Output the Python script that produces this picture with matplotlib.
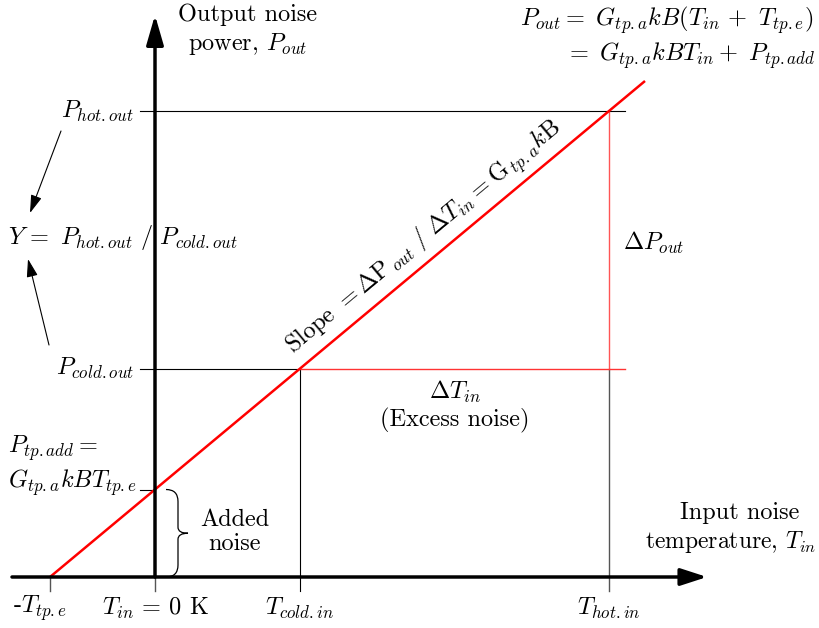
import matplotlib
matplotlib.use("Agg")
import matplotlib.pyplot as plt
from matplotlib.path import Path
from matplotlib.patches import PathPatch
import numpy as np

plt.rcParams['mathtext.fontset'] = 'cm'
plt.rcParams['font.family'] = ['cmr10', 'DejaVu Serif']
plt.rcParams['axes.formatter.use_mathtext'] = True

# ---- data (arbitrary units) ----
temp_names = ["-$T_{tp.e}$", "$T_{in}$ = 0 K", "$T_{cold.in}$", "$T_{hot.in}$"]
temps = [-105, 0, 145, 454]          # -T_tp.e, 0 K, T_cold.in, T_hot.in
p_add = 87.5                          # P_tp.add
p_cold = 208.4                        # P_cold.out
p_hot = 466.0                         # P_hot.out
line_x = [-105, 490]                  # red characteristic line
line_y = [0.0, 496.0]

FS = 17.5
fig = plt.figure(figsize=(8.2, 6.28), dpi=100)
ax = fig.add_axes([0, 0, 1, 1])
ax.set_xlim(-155, 665)
ax.set_ylim(-51, 577)
ax.axis('off')

def P(px, py):
    return px - 155, 577 - py

t_e, t0, t_cold, t_hot = temps
tick_lo = -14

# axes arrows
ax.annotate('', xy=(552, 0), xytext=(-143, 0),
            arrowprops=dict(arrowstyle='-|>,head_length=0.8,head_width=0.26',
                            mutation_scale=20, lw=2.5, color='black',
                            shrinkA=0, shrinkB=0))
ax.annotate('', xy=(0, 562), xytext=(0, 0),
            arrowprops=dict(arrowstyle='-|>,head_length=0.9,head_width=0.26',
                            mutation_scale=20, lw=2.5, color='black',
                            shrinkA=0, shrinkB=0))

# ticks below x-axis
for t in [t_e, t0]:
    ax.plot([t, t], [tick_lo, 0], color='#555555', lw=1.0)
ax.plot([t_cold, t_cold], [tick_lo, p_cold], color='black', lw=0.8)
ax.plot([t_hot, t_hot], [tick_lo, p_cold], color='#555555', lw=1.0)
ax.plot([t_hot, t_hot], [p_cold, p_hot], color='#ff5555', lw=1.0)

# horizontal guides
ax.plot([-15, 470], [p_hot, p_hot], color='black', lw=0.8)
ax.plot([-15, t_cold], [p_cold, p_cold], color='black', lw=0.8)
ax.plot([t_cold, 470], [p_cold, p_cold], color='#ff3333', lw=1.0)
ax.plot([-15, 0], [p_add, p_add], color='black', lw=0.8)

# red characteristic
ax.plot(line_x, line_y, color='#ff0000', lw=1.8, solid_capstyle='butt')

# brace for added noise
bx = 23
verts = [(11, p_add), (bx, p_add), (bx, p_add - 12),
         (bx, p_add / 2 + 6), (bx, p_add / 2), (bx + 10, p_add / 2),
         (bx, p_add / 2), (bx, p_add / 2 - 6),
         (bx, 12), (bx, 0), (11, 0)]
codes = [Path.MOVETO, Path.CURVE3, Path.CURVE3,
         Path.LINETO, Path.CURVE3, Path.CURVE3,
         Path.CURVE3, Path.CURVE3,
         Path.LINETO, Path.CURVE3, Path.CURVE3]
ax.add_patch(PathPatch(Path(verts, codes), fill=False, lw=0.9, color='black'))

# texts
ax.text(*P(248, 30), "Output noise\npower, $P_{out}$", fontsize=FS, ha='center', va='center',
        linespacing=1.25)
ax.text(*P(813, 20), r"$P_{out} =\ G_{tp.a}kB(T_{in}\, +\ T_{tp.e})$", fontsize=FS,
        ha='right', va='center')
ax.text(*P(816, 56), r"$=\ G_{tp.a}kBT_{in} +\ P_{tp.add}$", fontsize=FS,
        ha='right', va='center')
ax.text(*P(134, 111), r"$P_{hot.out}$", fontsize=FS, ha='right', va='center')
ax.text(*P(8, 237), r"$Y\, =\ P_{hot.out}\ /\ P_{cold.out}$", fontsize=FS, ha='left', va='center')
ax.text(*P(134, 368), r"$P_{cold.out}$", fontsize=FS, ha='right', va='center')
ax.text(*P(8, 448), r"$P_{tp.add} =$", fontsize=FS, ha='left', va='center')
ax.text(*P(8, 483), r"$G_{tp.a}kBT_{tp.e}$", fontsize=FS, ha='left', va='center')
ax.text(*P(235, 532), "Added\nnoise", fontsize=FS, ha='center', va='center', linespacing=1.1)
ax.text(*P(455, 392), r"$\Delta T_{in}$", fontsize=FS, ha='center', va='center')
ax.text(*P(455, 420), "(Excess noise)", fontsize=FS, ha='center', va='center')
ax.text(*P(623, 243), r"$\Delta P_{out}$", fontsize=FS, ha='left', va='center')
ax.text(*P(740, 513), "Input noise", fontsize=FS, ha='center', va='center')
ax.text(*P(816, 542), "temperature, $T_{in}$", fontsize=FS - 0.5, ha='right', va='center')

for name, t, dx in zip(temp_names, temps, [-10, 0, 0, 0]):
    ax.text(t + dx, -31, name, fontsize=FS, ha='center', va='center')

ang = np.degrees(np.arctan2(line_y[1] - line_y[0], line_x[1] - line_x[0]))
ax.text(*P(424, 238), r"Slope $=\Delta \mathrm{P}_{\,out}\ /\ \Delta T_{in} = \mathrm{G}_{\,tp.a}k\mathrm{B}$",
        fontsize=FS, ha='center', va='center', rotation=ang, rotation_mode='anchor')

# arrows to Y
arrow = dict(arrowstyle='-|>,head_length=0.55,head_width=0.17', mutation_scale=20,
             lw=0.8, color='black', shrinkA=0, shrinkB=0)
ax.annotate('', xy=P(30, 213), xytext=P(61, 131), arrowprops=arrow)
ax.annotate('', xy=P(28, 259), xytext=P(49, 345), arrowprops=arrow)

fig.savefig("out.png", dpi=100)
